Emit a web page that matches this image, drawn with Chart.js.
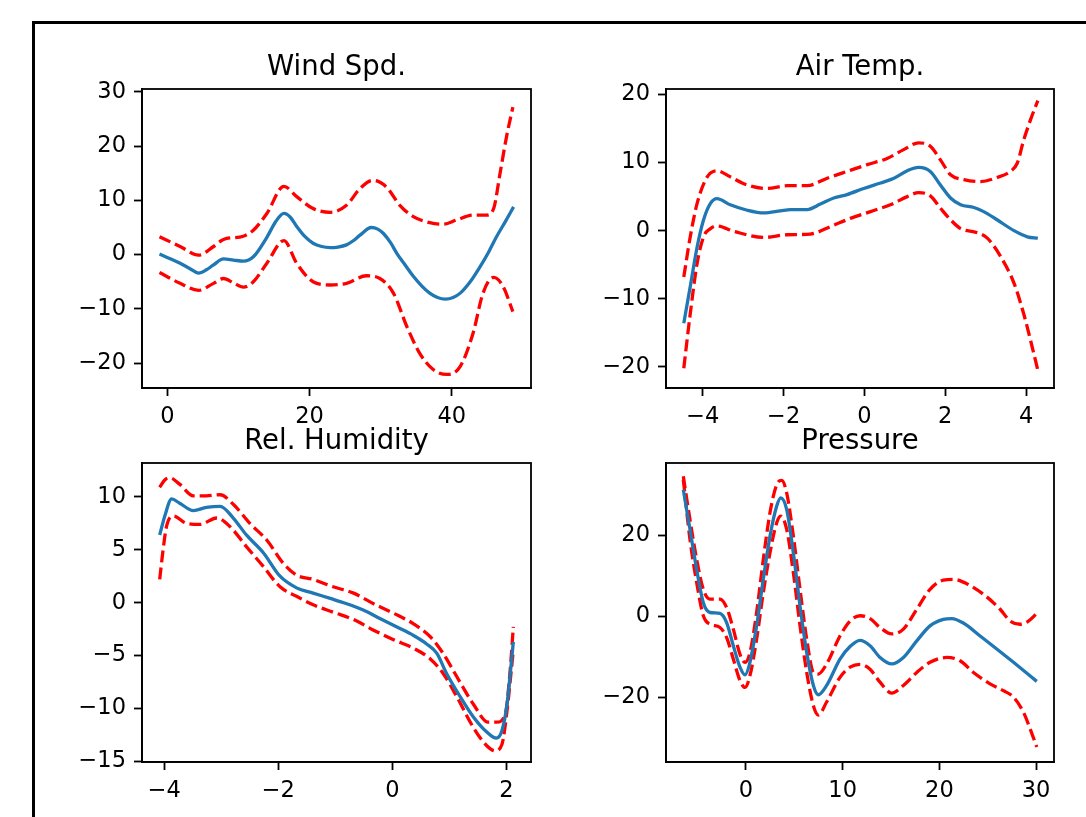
<!DOCTYPE html>
<html>
<head>
<meta charset="utf-8">
<script src="https://cdn.jsdelivr.net/npm/chart.js@4.4.0/dist/chart.umd.min.js"></script>
<style>
  html, body { margin: 0; padding: 0; background: #fff; overflow: hidden; }
  body { width: 1086px; height: 817px; position: relative; }
  .frame { position: absolute; left: 32px; top: 21px; width: 1100px; height: 850px; border: 3px solid #000; box-sizing: border-box; }
  canvas { position: absolute; }
</style>
</head>
<body>
<div class="frame"></div>
<canvas id="wind"></canvas>
<canvas id="temp"></canvas>
<canvas id="humid"></canvas>
<canvas id="press"></canvas>
<script>
// ---- Wind Spd. ----
const windMeanX = [-1.1, 0.5, 1.8, 3.2, 4.4, 5.5, 6.5, 7.9, 9.3, 10.7, 12.1, 14.0, 15.3, 16.4, 17.3, 18.2, 19.3, 20.5, 21.7, 22.9, 24.0, 25.2, 26.2, 27.1, 28.7, 29.6, 30.4, 31.4, 32.3, 33.5, 34.6, 35.8, 36.9, 38.0, 39.1, 40.2, 41.2, 42.6, 44.0, 45.2, 46.3, 47.5, 48.7];
const windMean = [0.1, -0.8, -1.6, -2.6, -3.4, -2.8, -1.9, -0.8, -1.0, -1.2, -0.4, 3.2, 6.2, 7.6, 6.9, 5.2, 3.4, 2.1, 1.5, 1.3, 1.4, 1.8, 2.6, 3.6, 5.0, 4.7, 3.9, 2.2, 0.2, -2.0, -4.0, -5.8, -7.1, -7.9, -8.2, -7.9, -7.1, -5.0, -2.2, 0.5, 3.3, 6.0, 8.8];
const windUpperX = [-1.1, 1.8, 4.4, 6.5, 7.9, 10.7, 12.1, 14.0, 16.4, 18.2, 20.5, 22.9, 25.2, 27.1, 28.9, 30.8, 32.7, 34.6, 36.9, 38.8, 40.7, 43.0, 44.9, 45.9, 46.8, 47.7, 48.6];
const windUpper = [3.3, 1.5, -0.1, 1.5, 2.8, 3.4, 4.5, 7.6, 12.6, 10.7, 8.5, 7.8, 9.1, 12.2, 13.7, 12.5, 9.1, 7.0, 5.9, 5.6, 6.4, 7.3, 7.3, 8.5, 15.0, 21.7, 27.2];
const windLowerX = [-1.1, 1.8, 4.4, 6.5, 7.9, 9.3, 10.7, 12.1, 14.0, 16.4, 18.2, 20.5, 22.9, 25.2, 28.0, 29.9, 31.8, 33.7, 35.5, 37.4, 39.3, 41.2, 43.0, 44.4, 45.9, 47.2, 48.6];
const windLower = [-3.3, -5.3, -6.6, -5.3, -4.4, -5.2, -6.0, -5.0, -1.6, 2.6, -1.6, -5.0, -5.6, -5.3, -3.9, -4.4, -7.1, -13.3, -18.2, -21.2, -22.1, -20.6, -14.5, -7.1, -4.2, -5.8, -10.5];
const windXTicks = [0, 20, 40];
const windYTicks = [-20, -10, 0, 10, 20, 30];

// ---- Air Temp. ----
const tempMeanX = [-4.47, -4.31, -4.14, -3.98, -3.81, -3.65, -3.32, -2.90, -2.49, -2.08, -1.83, -1.42, -1.09, -0.76, -0.43, -0.02, 0.40, 0.73, 1.06, 1.34, 1.63, 1.88, 2.13, 2.38, 2.71, 2.95, 3.28, 3.70, 4.03, 4.29];
const tempMean = [-13.6, -8.2, -2.4, 1.6, 4.0, 4.7, 3.8, 3.0, 2.6, 2.9, 3.1, 3.1, 3.9, 4.8, 5.3, 6.2, 7.0, 7.7, 8.8, 9.3, 8.7, 6.7, 4.8, 3.8, 3.4, 2.8, 1.6, 0.0, -0.9, -1.1];
const tempUpperX = [-4.47, -4.31, -4.14, -3.89, -3.65, -3.32, -2.90, -2.41, -1.91, -1.42, -0.92, -0.43, 0.07, 0.56, 0.97, 1.34, 1.63, 1.88, 2.13, 2.46, 2.87, 3.28, 3.61, 3.78, 3.94, 4.11, 4.29];
const tempUpper = [-6.8, -0.9, 4.0, 7.9, 8.8, 7.9, 6.7, 6.2, 6.6, 6.6, 7.7, 8.7, 9.7, 10.6, 11.9, 12.9, 12.4, 10.4, 8.2, 7.5, 7.2, 7.8, 8.7, 9.9, 13.3, 16.3, 19.1];
const tempLowerX = [-4.47, -4.31, -4.14, -3.98, -3.81, -3.65, -3.23, -2.49, -1.91, -1.34, -0.84, -0.35, 0.15, 0.64, 1.06, 1.34, 1.63, 1.88, 2.13, 2.38, 2.79, 3.04, 3.37, 3.70, 3.94, 4.11, 4.29];
const tempLower = [-20.2, -12.2, -4.8, -0.9, 0.3, 0.7, -0.1, -1.0, -0.6, -0.5, 0.6, 1.8, 2.8, 3.8, 5.0, 5.6, 5.1, 3.3, 1.6, 0.3, -0.3, -1.1, -3.8, -7.7, -12.2, -16.1, -20.5];
const tempXTicks = [-4, -2, 0, 2, 4];
const tempYTicks = [-20, -10, 0, 10, 20];

// ---- Rel. Humidity ----
const humidMeanX = [-4.08, -3.99, -3.87, -3.73, -3.49, -3.26, -3.02, -2.79, -2.56, -2.26, -1.97, -1.68, -1.39, -1.09, -0.80, -0.51, -0.22, 0.08, 0.37, 0.60, 0.78, 0.95, 1.19, 1.42, 1.65, 1.82, 1.92, 2.01, 2.07, 2.12];
const humidMean = [6.4, 8.2, 9.8, 9.4, 8.7, 9.0, 9.1, 8.0, 6.4, 4.7, 2.5, 1.4, 0.9, 0.4, -0.1, -0.7, -1.5, -2.3, -3.1, -3.9, -4.8, -6.7, -8.9, -10.8, -12.2, -12.8, -12.1, -9.6, -6.5, -3.7];
const humidUpperX = [-4.08, -3.99, -3.90, -3.73, -3.49, -3.26, -3.02, -2.79, -2.50, -2.20, -1.91, -1.68, -1.39, -1.04, -0.68, -0.33, 0.02, 0.37, 0.66, 0.89, 1.13, 1.42, 1.68, 1.83, 1.98, 2.06, 2.12];
const humidUpper = [10.9, 11.6, 11.8, 11.2, 10.1, 10.1, 10.2, 9.3, 7.5, 5.9, 3.7, 2.6, 2.2, 1.5, 0.9, -0.1, -1.0, -2.0, -3.2, -4.8, -7.0, -9.6, -11.3, -11.3, -10.5, -6.7, -2.3];
const humidLowerX = [-4.08, -4.02, -3.96, -3.84, -3.61, -3.37, -3.08, -2.85, -2.56, -2.26, -1.97, -1.68, -1.39, -1.04, -0.68, -0.33, 0.02, 0.37, 0.66, 0.89, 1.13, 1.42, 1.65, 1.80, 1.92, 2.01, 2.09, 2.12];
const humidLower = [2.2, 5.0, 7.2, 8.2, 7.5, 7.4, 8.0, 7.2, 5.3, 3.4, 1.5, 0.6, -0.2, -0.9, -1.6, -2.6, -3.5, -4.3, -5.3, -6.7, -8.9, -11.8, -13.5, -14.0, -13.4, -10.2, -6.1, -4.5];
const humidXTicks = [-4, -2, 0, 2];
const humidYTicks = [-15, -10, -5, 0, 5, 10];

// ---- Pressure ----
const pressMeanX = [-6.48, -5.79, -5.10, -4.41, -3.72, -2.69, -2.00, -1.31, -0.62, -0.10, 0.41, 1.10, 1.79, 2.48, 3.17, 3.59, 4.21, 4.90, 5.59, 6.28, 6.97, 7.48, 8.34, 9.72, 10.76, 11.79, 12.83, 13.86, 15.07, 16.28, 17.66, 19.03, 20.41, 21.28, 22.48, 24.21, 25.93, 27.66, 30.07];
const pressMean = [31.3, 21.5, 11.6, 3.4, 1.0, 0.8, -1.5, -7.2, -12.5, -14.4, -11.3, -2.3, 9.2, 19.8, 27.2, 29.3, 26.4, 15.7, 2.6, -8.9, -17.0, -19.3, -17.0, -10.5, -7.4, -5.9, -7.2, -10.1, -11.7, -10.1, -6.0, -2.3, -0.7, -0.5, -1.6, -4.8, -8.0, -11.3, -16.0];
const pressUpperX = [-6.48, -5.79, -5.10, -4.41, -3.72, -2.69, -2.00, -1.31, -0.62, -0.10, 0.41, 1.10, 1.79, 2.48, 3.17, 3.69, 4.21, 4.90, 5.59, 6.28, 6.97, 7.48, 8.34, 9.72, 10.76, 11.79, 12.83, 13.86, 15.07, 16.28, 17.66, 19.03, 20.41, 21.45, 22.83, 24.55, 26.28, 27.31, 28.34, 29.21, 30.07];
const pressUpper = [34.6, 23.9, 14.1, 6.7, 4.3, 4.3, 2.2, -3.1, -9.3, -11.3, -8.9, 1.0, 14.1, 25.6, 32.5, 33.6, 30.5, 19.8, 6.7, -5.6, -13.8, -14.2, -11.7, -4.8, -1.1, 0.2, -0.5, -2.7, -4.3, -3.1, 1.8, 6.7, 9.0, 9.2, 8.1, 5.5, 1.8, -1.1, -1.9, -1.1, 0.8];
const pressLowerX = [-6.48, -5.79, -5.10, -4.41, -3.72, -2.69, -2.00, -1.31, -0.62, -0.10, 0.41, 1.10, 1.79, 2.48, 3.17, 3.59, 4.21, 4.90, 5.59, 6.28, 6.97, 7.48, 8.34, 9.72, 10.76, 11.79, 12.83, 13.86, 15.07, 16.28, 17.66, 19.03, 20.76, 22.14, 23.52, 25.24, 26.62, 27.66, 28.69, 29.38, 30.07];
const pressLower = [33.8, 19.0, 8.4, 0.2, -1.9, -2.7, -5.2, -10.5, -15.8, -17.5, -14.6, -5.6, 5.9, 15.7, 23.1, 24.8, 21.5, 10.8, -2.3, -13.8, -22.0, -24.3, -21.1, -15.0, -12.5, -11.8, -13.0, -16.2, -18.9, -17.0, -13.8, -11.3, -10.1, -10.9, -13.8, -16.6, -18.3, -19.9, -23.6, -27.7, -32.2];
const pressXTicks = [0, 10, 20, 30];
const pressYTicks = [-20, 0, 20];

const BLUE = "#1f77b4";
const RED = "#ff0000";
const FONT = "'DejaVu Sans', sans-serif";
const SIDE = 80; // room for the y axis on the left of each plot box
const RIGHT = 30;
const XAXIS_H = 50;

const toPoints = (xs, ys) => xs.map((x, i) => ({ x, y: ys[i] }));
const fmt = (v) => (v < 0 ? "\u2212" + Math.abs(v) : String(v));

// draws the top/right edges of the axes box
const boxPlugin = {
  id: "box",
  afterDraw(chart) {
    const { ctx, chartArea: a } = chart;
    ctx.save();
    ctx.strokeStyle = "#000";
    ctx.lineWidth = 1.8;
    ctx.strokeRect(a.left, a.top, a.right - a.left, a.bottom - a.top);
    ctx.restore();
  },
};

function axis(min, max, ticks, isY) {
  return {
    type: "linear",
    min,
    max,
    afterBuildTicks: (s) => {
      s.ticks = ticks.map((v) => ({ value: v }));
    },
    afterFit: (s) => {
      if (isY) s.width = SIDE;
      else s.height = XAXIS_H;
    },
    grid: {
      display: true,
      drawOnChartArea: false,
      drawTicks: true,
      tickLength: 8,
      tickWidth: 1.8,
      tickColor: "#000",
    },
    border: { display: true, color: "#000", width: 1.8 },
    ticks: {
      color: "#000",
      font: { family: FONT, size: 22.5 },
      padding: 8,
      maxRotation: 0,
      autoSkip: false,
      callback: (v) => fmt(v),
    },
  };
}

function makePlot(id, cfg) {
  const canvas = document.getElementById(id);
  const titleH = cfg.titlePad[0] + 33 + cfg.titlePad[1];
  canvas.width = SIDE + cfg.boxW + RIGHT;
  canvas.height = titleH + cfg.boxH + XAXIS_H;
  canvas.style.left = cfg.boxL - SIDE + "px";
  canvas.style.top = cfg.boxT - titleH + "px";

  const line = (xs, ys, color, dash) => ({
    data: toPoints(xs, ys),
    borderColor: color,
    borderWidth: 3.3,
    borderDash: dash,
    pointRadius: 0,
    cubicInterpolationMode: "monotone",
  });

  new Chart(canvas.getContext("2d"), {
    type: "line",
    data: {
      datasets: [
        line(cfg.meanX, cfg.mean, BLUE, []),
        line(cfg.upperX, cfg.upper, RED, [12, 5]),
        line(cfg.lowerX, cfg.lower, RED, [12, 5]),
      ],
    },
    options: {
      responsive: false,
      animation: false,
      devicePixelRatio: 1,
      layout: { padding: { left: 0, right: RIGHT, top: 0, bottom: 0 } },
      plugins: {
        legend: { display: false },
        tooltip: { enabled: false },
        title: {
          display: true,
          fullSize: false, // centre over the axes box, like matplotlib
          text: cfg.title,
          color: "#000",
          font: { family: FONT, size: 27.5, weight: "normal", lineHeight: 1.2 },
          padding: { top: cfg.titlePad[0], bottom: cfg.titlePad[1] },
        },
      },
      scales: {
        x: axis(cfg.xMin, cfg.xMax, cfg.xTicks, false),
        y: axis(cfg.yMin, cfg.yMax, cfg.yTicks, true),
      },
    },
    plugins: [boxPlugin],
  });
}

makePlot("wind", {
  title: "Wind Spd.",
  boxL: 142, boxT: 89, boxW: 389, boxH: 299, titlePad: [11, 5],
  xMin: -3.56, xMax: 51.15, yMin: -24.6, yMax: 30.55,
  xTicks: windXTicks, yTicks: windYTicks,
  meanX: windMeanX, mean: windMean,
  upperX: windUpperX, upper: windUpper,
  lowerX: windLowerX, lower: windLower,
});

makePlot("temp", {
  title: "Air Temp.",
  boxL: 666, boxT: 89, boxW: 388, boxH: 299, titlePad: [11, 5],
  xMin: -4.91, xMax: 4.69, yMin: -23.1, yMax: 20.8,
  xTicks: tempXTicks, yTicks: tempYTicks,
  meanX: tempMeanX, mean: tempMean,
  upperX: tempUpperX, upper: tempUpper,
  lowerX: tempLowerX, lower: tempLower,
});

makePlot("humid", {
  title: "Rel. Humidity",
  boxL: 142, boxT: 463, boxW: 389, boxH: 299, titlePad: [7, 5],
  xMin: -4.39, xMax: 2.43, yMin: -15.06, yMax: 13.2,
  xTicks: humidXTicks, yTicks: humidYTicks,
  meanX: humidMeanX, mean: humidMean,
  upperX: humidUpperX, upper: humidUpper,
  lowerX: humidLowerX, lower: humidLower,
});

makePlot("press", {
  title: "Pressure",
  boxL: 666, boxT: 463, boxW: 388, boxH: 299, titlePad: [7, 5],
  xMin: -8.27, xMax: 31.85, yMin: -35.9, yMax: 37.9,
  xTicks: pressXTicks, yTicks: pressYTicks,
  meanX: pressMeanX, mean: pressMean,
  upperX: pressUpperX, upper: pressUpper,
  lowerX: pressLowerX, lower: pressLower,
});
</script>
</body>
</html>
